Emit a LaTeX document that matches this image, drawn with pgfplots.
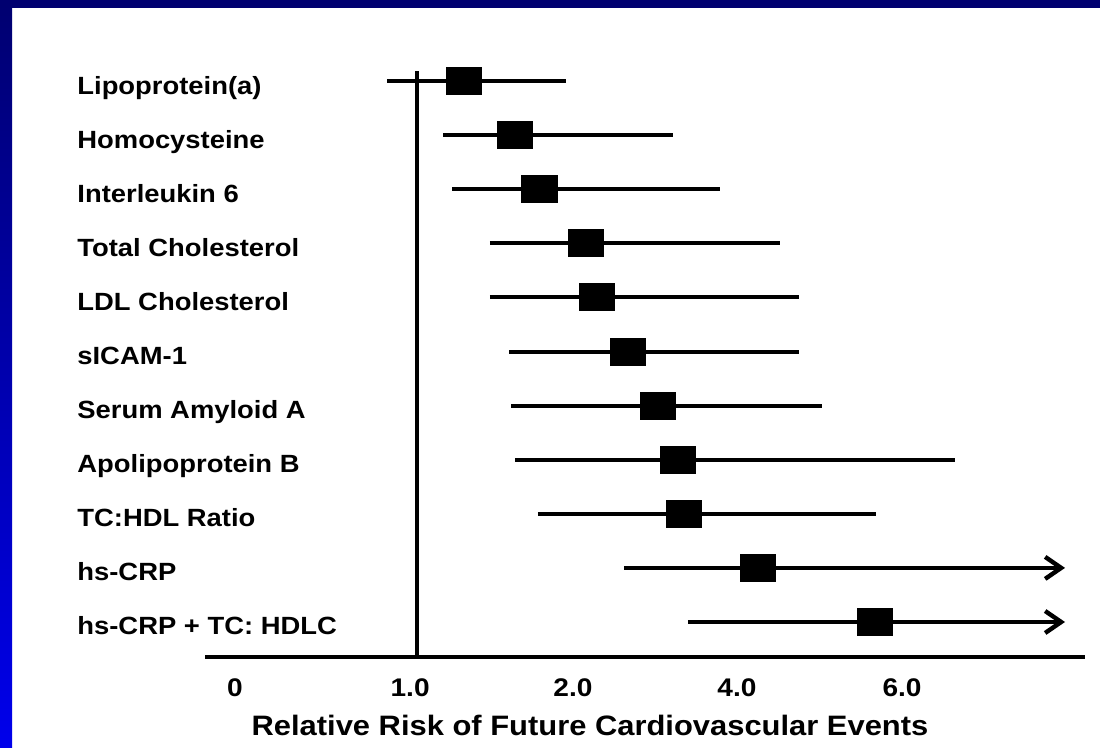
\documentclass[border=0pt]{standalone}
\usepackage{pgfplots}
\pgfplotsset{compat=1.18}
\usepackage{pgfplotstable}
\usepackage{fontspec}
\setmainfont{Liberation Sans}[FakeStretch=1.1]
\usetikzlibrary{arrows.meta}
\definecolor{navyband}{RGB}{0,0,112}
\definecolor{blueband}{RGB}{0,0,235}
% position along printed scale (tick "1.0" line at 1), row index (11 = top)
\pgfplotstableread{
row est
11 1.282
10 1.591
9 1.742
8 2.024
7 2.091
6 2.279
5 2.461
4 2.582
3 2.618
2 3.067
1 3.776
}\estdata
\begin{document}
\begin{tikzpicture}
\fill[white] (0,0) rectangle (550bp,374bp);
\shade[top color=navyband,bottom color=blueband] (0,0) rectangle (6bp,374bp);
\fill[navyband] (0,370bp) rectangle (550bp,374bp);
\begin{axis}[
  at={(102.5bp,45.5bp)}, anchor=south west,
  scale only axis, width=440bp, height=293bp,
  xmin=-0.285, xmax=5.048, ymin=0.353, ymax=11.185,
  axis x line*=bottom, axis y line*=left,
  x axis line style={-, line width=2bp, black},
  y axis line style={draw=none},
  major tick length=0pt,
  xtick={-0.103,0.958,1.945,2.939,3.939},
  xticklabels={0,1.0,2.0,4.0,6.0},
  xticklabel style={anchor=center, inner sep=0pt, yshift=-15.5bp, font=\bfseries\fontsize{12.8}{15}\selectfont},
  ytick={1,2,3,4,5,6,7,8,9,10,11},
  yticklabels={hs-CRP + TC: HDLC, hs-CRP, TC:HDL Ratio, Apolipoprotein B, Serum Amyloid A, sICAM-1, LDL Cholesterol, Total Cholesterol, Interleukin 6, Homocysteine, Lipoprotein(a)},
  yticklabel style={anchor=base west, inner sep=0pt, xshift=-64bp, yshift=-6.5bp, font=\bfseries\fontsize{12.5}{15}\selectfont},
  xlabel={Relative Risk of Future Cardiovascular Events},
  xlabel style={at={(axis description cs:0.4375,0)}, anchor=center, inner sep=0pt, yshift=-34bp, font=\bfseries\fontsize{14.1}{17}\selectfont},
  clip=false,
]
% reference line at RR = 1.0
\addplot[black, line width=1.75bp, no marks] coordinates {(1,0.353) (1,11.185)};
% confidence intervals
\addplot[black, line width=2bp, no marks] coordinates {(0.818,11) (1.903,11)};
\addplot[black, line width=2bp, no marks] coordinates {(1.158,10) (2.552,10)};
\addplot[black, line width=2bp, no marks] coordinates {(1.212,9) (2.836,9)};
\addplot[black, line width=2bp, no marks] coordinates {(1.442,8) (3.200,8)};
\addplot[black, line width=2bp, no marks] coordinates {(1.442,7) (3.315,7)};
\addplot[black, line width=2bp, no marks] coordinates {(1.558,6) (3.315,6)};
\addplot[black, line width=2bp, no marks] coordinates {(1.570,5) (3.455,5)};
\addplot[black, line width=2bp, no marks] coordinates {(1.594,4) (4.261,4)};
\addplot[black, line width=2bp, no marks] coordinates {(1.733,3) (3.782,3)};
\addplot[black, line width=2bp, no marks, -{Straight Barb[length=8bp,width=11bp,line width=2.2bp]}] coordinates {(2.255,2) (4.927,2)};
\addplot[black, line width=2bp, no marks, -{Straight Barb[length=8bp,width=11bp,line width=2.2bp]}] coordinates {(2.642,1) (4.927,1)};
% point estimates
\addplot[only marks, mark=square*, mark size=6.75bp, mark options={xscale=1.3, fill=black, draw=black, line width=0pt}] table[x=est, y=row] {\estdata};
\end{axis}
\useasboundingbox (0,0) rectangle (550bp,374bp);
\end{tikzpicture}
\end{document}
